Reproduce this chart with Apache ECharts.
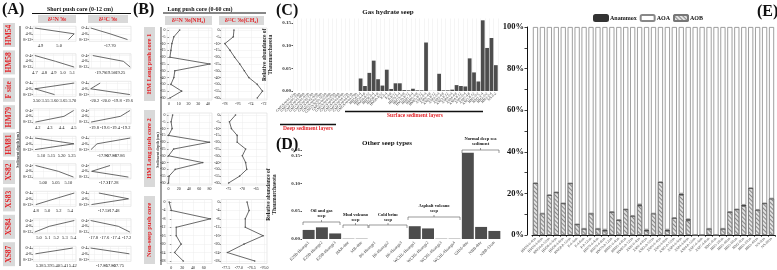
<!DOCTYPE html>
<html>
<head>
<meta charset="utf-8">
<script src="https://cdn.jsdelivr.net/npm/echarts@6/dist/echarts.min.js"></script>
<style>
html, body { margin: 0; padding: 0; background: #fff; }
#main { width: 777px; height: 270px; }
</style>
</head>
<body>
<div id="main"></div>
<script>
// ---- (A) short push cores: delta15N / delta13C at three depth intervals ----
const shortCores = ['HM54', 'HM58', 'F site', 'HM79', 'HM81', 'XS82', 'XS83', 'XS84', 'XS87'];
const shortDepths = ['0-4', '4-8', '8-12'];
const shortN = [
  [4.87, 5.08, 5.05],
  [4.70, 4.92, 5.12],
  [3.71, 3.49, 3.60],
  [4.50, 4.42, 4.18],
  [5.07, 5.26, 5.07],
  [4.97, 5.06, 5.12],
  [5.47, 5.13, 4.80],
  [5.41, 5.12, 4.95],
  [5.42, 5.375, null]
];
const shortNTicks = [
  ['4.9', '5.0'],
  ['4.7', '4.8', '4.9', '5.0', '5.1'],
  ['3.50', '3.55', '3.60', '3.65', '3.70'],
  ['4.2', '4.3', '4.4', '4.5'],
  ['5.10', '5.15', '5.20', '5.25'],
  ['5.00', '5.05', '5.10'],
  ['4.8', '5.0', '5.2', '5.4'],
  ['5.0', '5.1', '5.2', '5.3', '5.4'],
  ['5.38', '5.39', '5.40', '5.41', '5.42']
];
const shortNRange = [[4.86, 5.09], [4.68, 5.14], [3.48, 3.72], [4.16, 4.52], [5.06, 5.27], [4.96, 5.13], [4.75, 5.5], [4.93, 5.43], [5.372, 5.424]];
const shortC = [
  [-17.81, -17.70, -17.60],
  [-19.95, -19.15, -18.97],
  [-20.10, -20.27, -19.57],
  [-19.12, -19.30, -19.86],
  [-17.832, -17.915, -17.93],
  [-17.29, -17.36, -17.22],
  [-17.54, -17.42, -17.57],
  [-17.85, -17.35, -17.14],
  [-17.92, -17.68, null]
];
const shortCTicks = [
  ['-17.75', '-17.70'],
  ['-20.00', '-19.75', '-19.50', '-19.25', '-19.00'],
  ['-20.2', '-20.0', '-19.8', '-19.6'],
  ['-19.8', '-19.6', '-19.4', '-19.2'],
  ['-17.92', '-17.90', '-17.88', '-17.86', '-17.84'],
  ['-17.34', '-17.31', '-17.28', '-17.25'],
  ['-17.56', '-17.52', '-17.48', '-17.44'],
  ['-17.8', '-17.6', '-17.4', '-17.2'],
  ['-17.90', '-17.85', '-17.80', '-17.75', '-17.70']
];
const shortCRange = [[-17.82, -17.58], [-20.05, -18.95], [-20.3, -19.55], [-19.9, -19.1], [-17.935, -17.83], [-17.37, -17.21], [-17.58, -17.41], [-17.88, -17.12], [-17.93, -17.67]];

// ---- (B) long push cores ----
const longCores = ['HM Long push core 1', 'HM Long push core 2', 'Non-seep push core'];
const longDepths = ['0', '-5', '-10', '-15', '-20', '-25', '-30', '-40', '-50', '-55', '-60'];
const nonSeepDepths = ['0', '-4', '-8', '-12', '-16', '-20', '-24', '-28'];
const core1N = [11, 5, 3, 2, 1, 42, 6, 5, 2, 13, 1];
const core1C = [-76.6, -76.7, -78, -77.2, -76.5, -75.7, -75, -74.3, -73, -72.2, -73];
const core2N = [8, 5, 7, 0, 80, 10, 0, 67, 13, 1, 0];
const core2C = [-72.5, -74.7, -74, -71.9, -71.9, -68.8, -70, -68.8, -68.4, -71, -75];
const nonSeepN = [-4, 0, 72, 9, 9, 18, 6, 22];
const nonSeepC = [-76.68, -76.6, -76.75, -76.75, -76.05, -76.8, -77.45, -76.38];
const longNTicks = [['0', '10', '20', '30', '40'], ['0', '20', '40', '60', '80'], ['0', '20', '40', '60']];
const longNRange = [[-2, 44], [-3, 85], [-8, 75]];
const longCTicks = [['-78', '-76', '-74', '-72'], ['-75', '-70', '-65'], ['-77.5', '-77.0', '-76.5', '-76.0']];
const longCRange = [[-78.6, -71.5], [-77.8, -61], [-77.7, -75.9]];

// ---- (C) gas hydrate seep ----
const deepSamples = ['GMGS-W01-12m', 'GMGS-W01-35m', 'GMGS-W01-68m', 'GMGS-W01-91m', 'GMGS-W02-15m', 'GMGS-W02-42m', 'GMGS-W02-76m', 'GMGS-W02-103m', 'GMGS-W03-8m', 'GMGS-W03-29m', 'GMGS-W03-55m', 'GMGS-W03-84m', 'GMGS-W04-11m', 'GMGS-W04-47m', 'GMGS-W04-79m'];
const surfaceSamples = ['HM54-0-4', 'HM54-4-8', 'HM54-8-12', 'HM58-0-4', 'HM58-4-8', 'HM58-8-12', 'F-0-4', 'F-4-8', 'F-8-12', 'HM79-0-4', 'HM79-4-8', 'HM79-8-12', 'HM81-0-4', 'HM81-4-8', 'HM81-8-12', 'XS82-0-4', 'XS82-4-8', 'XS82-8-12', 'XS83-0-4', 'XS83-4-8', 'XS83-8-12', 'XS84-0-4', 'XS84-4-8', 'XS84-8-12', 'XS87-0-4', 'XS87-4-8', 'XS87-8-12', 'HM1-0-2', 'HM1-2-4', 'HM2-0-2', 'HM2-2-4', 'NS-0-2'];
const deepValues = [0, 0, 0, 0, 0, 0, 0, 0, 0, 0, 0, 0, 0, 0, 0];
const surfaceValues = [0.0276, 0.011, 0.040, 0.067, 0.026, 0.012, 0.047, 0.0045, 0.017, 0.017, 0.002, 0.0015, 0.005, 0.0015, 0.0015, 0.107, 0.0003, 0.0003, 0.038, 0.0015, 0.0015, 0.003, 0.013, 0.011, 0.010, 0.072, 0.041, 0.021, 0.156, 0.095, 0.117, 0.057];

// ---- (D) other seep types ----
const seepSamples = ['E29B-Huangs1', 'E29B-Huangs2', 'E29B-Huangs3', 'HAR-dmr', 'MB-dmr', 'BS-Huangs1', 'BS-Huangs2', 'BS-Huangs3', 'WCHL-Huangs1', 'WCHL-Huangs2', 'WCHL-Huangs3', 'WCHL-Huangs4', 'GHM-dmr', 'NBB-dmr', 'NBB-13cm'];
const seepValues = [0.0163, 0.021, 0.010, 0.0005, 0.0005, 0, 0, 0, 0.023, 0.019, 0.0005, 0.0005, 0.155, 0.0217, 0.0145];

// ---- (E) nitrogen-cycling community composition (%) ----
const nitrifierSamples = ['HM54-0-4cm', 'HM54-4-8cm', 'HM54-8-12cm', 'HM58-0-4cm', 'HM58-4-8cm', 'HM58-8-12cm', 'F-0-4cm', 'F-4-8cm', 'F-8-12cm', 'HM79-0-4cm', 'HM79-4-8cm', 'HM79-8-12cm', 'HM81-0-4cm', 'HM81-4-8cm', 'HM81-8-12cm', 'XS82-0-4cm', 'XS82-4-8cm', 'XS82-8-12cm', 'XS83-0-4cm', 'XS83-4-8cm', 'XS83-8-12cm', 'XS84-0-4cm', 'XS84-4-8cm', 'XS84-8-12cm', 'XS87-0-4cm', 'XS87-4-8cm', 'HM1-0cm', 'HM1-20cm', 'HM1-40cm', 'HM1-60cm', 'HM2-0cm', 'HM2-20cm', 'HM2-40cm', 'NS-0cm', 'NS-28cm'];
const aobShare = [24.9, 10.3, 19.2, 20.5, 15.2, 24.8, 5.1, 3, 10.3, 3, 2, 11.1, 7.2, 12.3, 9.2, 14.1, 2, 10.3, 25.4, 2, 8.2, 19.3, 7, 0, 0, 3, 0, 3, 11.1, 12.3, 13.9, 22.5, 12.1, 15.2, 17.5];
const anammoxShare = [0, 0, 0, 0, 0, 0, 0, 0, 0, 0, 0.6, 0, 0, 0, 0, 0.6, 0.6, 0, 0, 0.6, 0, 0.6, 0.6, 0, 0, 0, 0, 0, 0, 0, 0.6, 0, 0, 0, 0];
const aoaShare = [75.1, 89.7, 80.8, 79.5, 84.8, 75.2, 94.9, 97, 89.7, 97, 97.4, 88.9, 92.8, 87.7, 90.8, 85.3, 97.4, 89.7, 74.6, 97.4, 91.8, 80.1, 92.4, 100, 100, 97, 100, 97, 88.9, 87.7, 85.5, 77.5, 87.9, 84.8, 82.5];

const SERIF = '"Liberation Serif", "DejaVu Serif", serif';
const RED = '#e3262b';
const chart = echarts.init(document.getElementById('main'));

const grid = [], xAxis = [], yAxis = [], series = [], graphic = [];

// 刻度文字: 取最接近的标签
function tickFmt(labels) {
  const nums = labels.map(Number);
  return function (v) {
    let k = 0;
    for (let i = 1; i < nums.length; i++) if (Math.abs(nums[i] - v) < Math.abs(nums[k] - v)) k = i;
    return labels[k];
  };
}

// 小剖面图 (深度向下)
function profile(o) {
  const gi = grid.length;
  const n = o.depths.length;
  const idx = o.depths.map((d, i) => i);
  grid.push({ left: o.left, top: o.top, width: o.width, height: o.height, show: true, borderColor: '#d2d2d2', borderWidth: 0.5 });
  xAxis.push({
    gridIndex: gi, type: 'value', min: o.range[0], max: o.range[1],
    axisLine: { show: false },
    axisTick: { show: false, customValues: o.ticks.map(Number) },
    axisLabel: { customValues: o.ticks.map(Number), formatter: tickFmt(o.ticks), fontSize: o.fs, fontFamily: SERIF, color: '#222', margin: 2 },
    splitLine: { show: true, lineStyle: { color: '#ececec', width: 0.5 } }
  });
  yAxis.push({
    gridIndex: gi, type: 'value', inverse: true, min: -0.3, max: n - 1 + 0.3,
    axisLine: { show: false },
    axisTick: { show: true, customValues: idx, length: 1.5, lineStyle: { color: '#333', width: 0.5 } },
    axisLabel: { customValues: idx, formatter: v => o.depths[Math.round(v)], fontSize: o.fs, fontFamily: SERIF, color: '#222', margin: 1.5 },
    splitLine: { show: true, lineStyle: { color: '#ececec', width: 0.5 } }
  });
  series.push({
    type: 'line', xAxisIndex: gi, yAxisIndex: gi,
    data: o.values.map((v, i) => (v == null ? null : [v, i])).filter(p => p),
    symbol: o.symbol ? 'circle' : 'none', symbolSize: 1.6,
    itemStyle: { color: '#555' }, lineStyle: { color: '#444', width: 0.8 }, silent: true
  });
}

function txt(s, x, y, size, color, rot, align) {
  graphic.push({
    type: 'text', x: x, y: y, rotation: rot || 0, silent: true,
    style: { text: s, fill: color || '#111', font: 'bold ' + size + 'px ' + SERIF, align: align || 'center', verticalAlign: 'middle' }
  });
}
function box(x, y, w, h) {
  graphic.push({ type: 'rect', silent: true, shape: { x: x, y: y, width: w, height: h }, style: { fill: '#d9d9d9' } });
}
function seg(pts, w, c) {
  graphic.push({ type: 'polyline', silent: true, shape: { points: pts }, style: { stroke: c || '#111', lineWidth: w, fill: null } });
}
function bracket(x1, x2, y) {
  seg([[x1, y + 3], [x1, y], [x2, y], [x2, y + 3]], 0.6, '#555');
  seg([[(x1 + x2) / 2, y], [(x1 + x2) / 2, y - 2]], 0.6, '#555');
}

// ---------- (A) ----------
txt('(A)', 2, 10, 16, '#111', 0, 'left');
txt('Short push core (0-12 cm)', 80, 9, 6);
seg([[32, 13.5], [131, 13.5]], 1.2);
box(38, 15, 38, 8); txt('δ¹⁵N ‰', 57, 19, 6, RED);
box(88, 15, 40, 8); txt('δ¹³C ‰', 108, 19, 6, RED);
seg([[20, 26], [20, 266]], 1.4, '#777');
txt('Sediment depth (cm)', 17.5, 150, 4, '#333', Math.PI / 2);
shortCores.forEach(function (name, i) {
  const top = 26.3 + 27.5 * i;
  profile({ left: 33, top: top, width: 43, height: 15, range: shortNRange[i], ticks: shortNTicks[i], values: shortN[i], depths: shortDepths, fs: 4.5 });
  profile({ left: 89, top: top, width: 42, height: 15, range: shortCRange[i], ticks: shortCTicks[i], values: shortC[i], depths: shortDepths, fs: 4.5 });
  const c = 35 + 27.4 * i;
  box(3, c - 12, 12, 24);
  txt(name, 9, c, 7.5, RED, Math.PI / 2);
});

// ---------- (B) ----------
txt('(B)', 133, 10, 16, '#111', 0, 'left');
txt('Long push core (0-60 cm)', 200, 9, 6);
seg([[163, 13], [266, 13]], 1.2);
box(165, 16, 47, 9); txt('δ¹⁵N ‰(NH₄)', 188.5, 20.5, 6, RED);
box(219, 16, 45, 9); txt('δ¹³C ‰(CH₄)', 241.5, 20.5, 6, RED);
seg([[161, 27], [161, 265]], 1.4, '#777');
txt('Sediment depth (cm)', 158, 150, 4, '#333', Math.PI / 2);
const longN = [core1N, core2N, nonSeepN];
const longC = [core1C, core2C, nonSeepC];
const longDepthSets = [longDepths, longDepths, nonSeepDepths];
const longTop = [28, 113, 199.5];
const longH = [72, 72, 64];
const longBox = [[27, 74], [110, 77], [196, 68]];
longCores.forEach(function (name, i) {
  profile({ left: 167, top: longTop[i], width: 45, height: longH[i], range: longNRange[i], ticks: longNTicks[i], values: longN[i], depths: longDepthSets[i], fs: 4, symbol: true });
  profile({ left: 221, top: longTop[i], width: 46, height: longH[i], range: longCRange[i], ticks: longCTicks[i], values: longC[i], depths: longDepthSets[i], fs: 4, symbol: true });
  box(144, longBox[i][0], 11, longBox[i][1]);
  txt(name, 149.5, longBox[i][0] + longBox[i][1] / 2, 6.5, RED, Math.PI / 2);
});

// ---------- (C) ----------
txt('(C)', 276, 11, 16, '#111', 0, 'left');
txt('Gas hydrate seep', 388, 12, 7);
const gC = grid.length;
grid.push({ left: 293, top: 18.5, width: 205, height: 72.5 });
xAxis.push({
  gridIndex: gC, type: 'category', data: deepSamples.concat(surfaceSamples),
  axisLine: { show: false }, axisTick: { show: false },
  axisLabel: { interval: 0, rotate: 45, fontSize: 3.6, fontFamily: SERIF, color: '#333', margin: 2 },
  splitLine: { show: true, lineStyle: { color: '#eaeaea', width: 0.5 } }
});
yAxis.push({
  gridIndex: gC, type: 'value', min: 0, max: 0.16, interval: 0.05,
  name: 'Relative abundance of\nThaumarchaeota', nameLocation: 'middle', nameGap: 19, nameRotate: 90,
  nameTextStyle: { fontFamily: SERIF, fontWeight: 'bold', fontSize: 5.5, color: '#222', lineHeight: 6 },
  axisLine: { show: false }, axisTick: { show: true, length: 1.5, lineStyle: { color: '#555' } },
  axisLabel: { formatter: v => v.toFixed(2), fontSize: 5, fontWeight: 'bold', fontFamily: SERIF, color: '#333', margin: 2 },
  splitLine: { show: false }
});
series.push({ type: 'bar', xAxisIndex: gC, yAxisIndex: gC, data: deepValues.concat(surfaceValues), barCategoryGap: '14%', itemStyle: { color: '#4d4d4d' }, silent: true });
seg([[345, 111.5], [483, 111.5]], 1.3);
txt('Surface sediment layers', 415, 115.5, 5.5, RED);
seg([[280, 124.5], [336, 124.5]], 1.3);
txt('Deep sediment layers', 308, 129, 5.5, RED);

// ---------- (D) ----------
txt('(D)', 276, 145, 16, '#111', 0, 'left');
txt('Other seep types', 387, 143, 7);
const gD = grid.length;
grid.push({ left: 302, top: 150, width: 199, height: 89 });
xAxis.push({
  gridIndex: gD, type: 'category', data: seepSamples,
  axisLine: { show: false }, axisTick: { show: false },
  axisLabel: { interval: 0, rotate: 45, fontSize: 4.2, fontFamily: SERIF, color: '#333', margin: 3 }
});
yAxis.push({
  gridIndex: gD, type: 'value', min: 0, max: 0.16, interval: 0.05,
  name: 'Relative abundance of\nThaumarchaeota', nameLocation: 'middle', nameGap: 24, nameRotate: 90,
  nameTextStyle: { fontFamily: SERIF, fontWeight: 'bold', fontSize: 5.5, color: '#222', lineHeight: 6 },
  axisLine: { show: false }, axisTick: { show: true, length: 1.5, lineStyle: { color: '#555' } },
  axisLabel: { formatter: v => v.toFixed(2), fontSize: 5, fontWeight: 'bold', fontFamily: SERIF, color: '#333', margin: 2 },
  splitLine: { show: false }
});
series.push({ type: 'bar', xAxisIndex: gD, yAxisIndex: gD, data: seepValues, barCategoryGap: '10%', itemStyle: { color: '#4d4d4d' }, silent: true });
bracket(303, 340, 222); txt('Oil and gas\nseep', 321.5, 213, 4.5);
bracket(343, 368, 225); txt('Mud volcano\nseep', 355.5, 217, 4.5);
bracket(369, 407, 225); txt('Cold brine\nseep', 388, 217, 4.5);
bracket(408, 460, 217); txt('Asphalt volcano\nseep', 434, 208.5, 4.5);
bracket(462, 499, 150); txt('Normal deep sea\nsediment', 480.5, 141, 4.5);

// ---------- (E) ----------
txt('(E)', 757, 12, 16, '#111', 0, 'left');
const gE = grid.length;
grid.push({ left: 532, top: 27, width: 243, height: 208 });
xAxis.push({
  gridIndex: gE, type: 'category', data: nitrifierSamples,
  axisLine: { show: true, lineStyle: { color: '#111', width: 1 } },
  axisTick: { show: true, length: 2, lineStyle: { color: '#111', width: 0.6 } },
  axisLabel: { interval: 0, rotate: 45, fontSize: 3.6, fontFamily: SERIF, color: '#444', margin: 3 }
});
yAxis.push({
  gridIndex: gE, type: 'value', min: 0, max: 100, interval: 10, offset: 5,
  axisLine: { show: true, lineStyle: { color: '#111', width: 1 } },
  axisTick: { show: true, length: 2.5, lineStyle: { color: '#111', width: 0.8 } },
  axisLabel: { formatter: v => (v % 20 === 0 ? v + '%' : ''), fontSize: 8.5, fontWeight: 'bold', fontFamily: SERIF, color: '#111', margin: 3 },
  splitLine: { show: false }
});
const eBar = { type: 'bar', xAxisIndex: gE, yAxisIndex: gE, stack: 'e', barCategoryGap: '26%', silent: true };
series.push(Object.assign({}, eBar, {
  name: 'AOB', data: aobShare,
  itemStyle: { color: '#e2e2e2', borderColor: '#777', borderWidth: 0.7,
    decal: { symbol: 'rect', symbolSize: 1, color: '#8a8a8a', dashArrayX: [1, 0], dashArrayY: [1, 1.6], rotation: Math.PI / 4 } }
}));
series.push(Object.assign({}, eBar, { name: 'Anammox', data: anammoxShare, itemStyle: { color: '#333', borderColor: '#333', borderWidth: 0.5 } }));
series.push(Object.assign({}, eBar, { name: 'AOA', data: aoaShare, itemStyle: { color: '#fff', borderColor: '#888', borderWidth: 0.8 } }));

chart.setOption({
  animation: false,
  backgroundColor: '#fff',
  legend: {
    data: ['Anammox', 'AOA', 'AOB'], left: 593, top: 14, padding: 0,
    itemWidth: 14, itemHeight: 6, itemGap: 3, selectedMode: false,
    textStyle: { fontFamily: SERIF, fontWeight: 'bold', fontSize: 6, color: '#111', padding: [0, 0, 0, -3] }
  },
  grid: grid,
  xAxis: xAxis,
  yAxis: yAxis,
  series: series,
  graphic: graphic
});
</script>
</body>
</html>
